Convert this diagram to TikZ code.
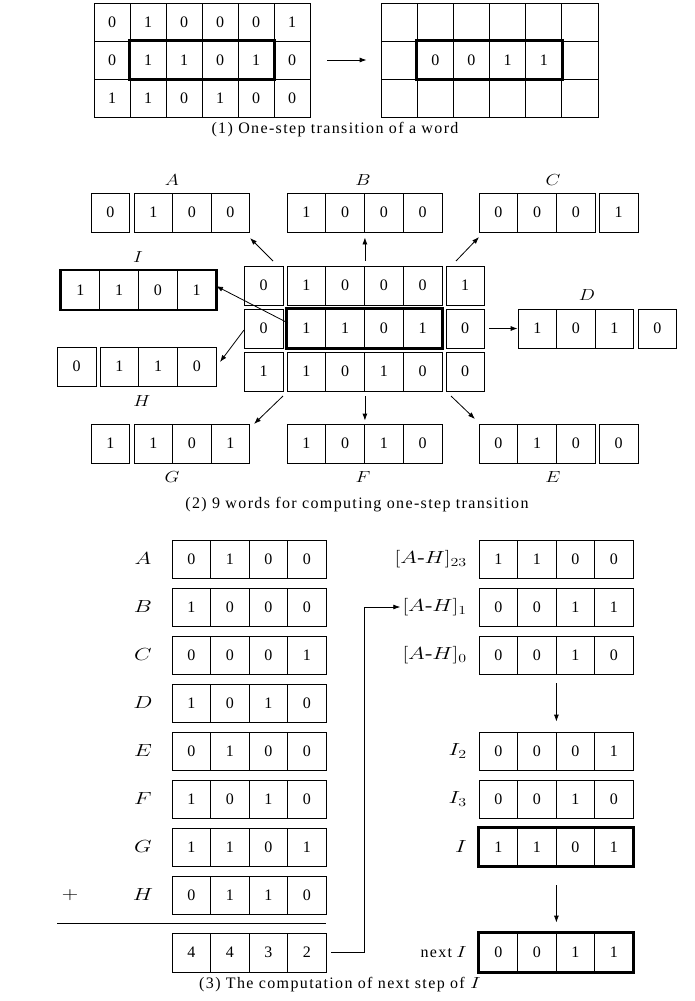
\RequirePackage{fix-cm}
\documentclass[tikz,border=0pt]{standalone}
\usepackage[no-math]{fontspec}
\setmainfont{Liberation Serif}
\usetikzlibrary{arrows.meta}
\newcommand\emptyc{}
\newcommand\mlab[1]{\scalebox{1.2}[1]{$#1$}}
\newcommand\mlabb[1]{\scalebox{1.3}[1]{$#1$}}
\newcommand\spaced{\addfontfeatures{LetterSpace=8.5}}
% #1 name, #2 left x, #3 centre y, #4 cell width, #5 cell height, #6 list
\newcommand\wrd[6]{%
  \foreach \d [count=\i] in {#6} {%
    \node[cellbox, minimum width=#4pt, minimum height=#5pt] (#1-\i) at ({#2+(\i-0.5)*#4}, #3) {\d};
  }}
\begin{document}
\begin{tikzpicture}[x=1pt,y=-1pt, font=\fontsize{16}{19}\selectfont,
  cellbox/.style={draw, line width=0.8pt, inner sep=0pt},
  thickbox/.style={draw, line width=2.6pt},
  arr/.style={-{Latex[length=7pt,width=5pt]}, line width=0.8pt},
  lbl/.style={inner sep=0pt},
  biglbl/.style={inner sep=0pt, font=\fontsize{17.5}{20}\selectfont},
  captxt/.style={inner sep=0pt, font=\fontsize{16}{19}\selectfont\spaced}]
\useasboundingbox (0,0) rectangle (694,1001);

% ---------- (1) ----------
\wrd{ta}{94}{22}{36}{38}{0,1,0,0,0,1}
\wrd{tb}{94}{60}{36}{38}{0,1,1,0,1,0}
\wrd{tc}{94}{98}{36}{38}{1,1,0,1,0,0}
\draw[thickbox] (tb-2.north west) rectangle (tb-5.south east);
\wrd{ua}{381}{22}{36.17}{38}{\emptyc,\emptyc,\emptyc,\emptyc,\emptyc,\emptyc}
\wrd{ub}{381}{60}{36.17}{38}{\emptyc,0,0,1,1,\emptyc}
\wrd{uc}{381}{98}{36.17}{38}{\emptyc,\emptyc,\emptyc,\emptyc,\emptyc,\emptyc}
\draw[thickbox] (ub-2.north west) rectangle (ub-5.south east);
\draw[arr, shorten <=17pt, shorten >=14pt] (tb-6.east) -- (ub-1.west);
\node[captxt] (cap1) at (335,130) {(1) One-step transition of a word};

% ---------- (2) ----------
\wrd{caL}{244}{285.5}{39}{39}{0}
\wrd{ca}{287}{285.5}{38.75}{39}{1,0,0,0}
\wrd{caR}{446}{285.5}{38}{39}{1}
\wrd{cbL}{244}{328.5}{39}{39}{0}
\wrd{cb}{287}{328.5}{38.75}{39}{1,1,0,1}
\wrd{cbR}{446}{328.5}{38}{39}{0}
\wrd{ccL}{244}{371.5}{39}{39}{1}
\wrd{cc}{287}{371.5}{38.75}{39}{1,0,1,0}
\wrd{ccR}{446}{371.5}{38}{39}{0}
\draw[thickbox] (cb-1.north west) rectangle (cb-4.south east);

\wrd{wAs}{91}{212.5}{38.5}{39}{0}
\wrd{wA}{134}{212.5}{38.5}{39}{1,0,0}
\wrd{wB}{287}{212.5}{38.75}{39}{1,0,0,0}
\wrd{wC}{479}{212.5}{38.7}{39}{0,0,0}
\wrd{wCs}{599}{212.5}{39}{39}{1}
\wrd{wI}{61}{290}{38.75}{39}{1,1,0,1}
\draw[thickbox] (wI-1.north west) rectangle (wI-4.south east);
\wrd{wD}{518}{328.5}{38.5}{39}{1,0,1}
\wrd{wDs}{638}{328.5}{38.5}{39}{0}
\wrd{wHs}{57}{366.5}{39}{39}{0}
\wrd{wH}{100}{366.5}{38.7}{39}{1,1,0}
\wrd{wGs}{91}{443.5}{38.5}{39}{1}
\wrd{wG}{134}{443.5}{38.5}{39}{1,0,1}
\wrd{wF}{287}{443.5}{38.75}{39}{1,0,1,0}
\wrd{wE}{479}{443.5}{38.7}{39}{0,1,0}
\wrd{wEs}{599}{443.5}{39}{39}{0}

\node[lbl] (lA) at (172,180) {\mlab{A}};
\node[lbl] (lB) at (363,180) {\mlab{B}};
\node[lbl] (lC) at (553,180) {\mlab{C}};
\node[lbl] (lI) at (138,257) {\mlab{I}};
\node[lbl] (lD) at (587,295) {\mlab{D}};
\node[lbl] (lH) at (142,401) {\mlab{H}};
\node[lbl] (lG) at (172,477) {\mlab{G}};
\node[lbl] (lF) at (363,477) {\mlab{F}};
\node[lbl] (lE) at (553,477) {\mlab{E}};

\coordinate (sA) at (273,261); \coordinate (eA) at (250,238);
\coordinate (sC) at (456,261); \coordinate (eC) at (479,237);
\coordinate (sH) at (244,330); \coordinate (eH) at (220,362);
\coordinate (sG) at (283,396); \coordinate (eG) at (254,424);
\coordinate (sE) at (451,396); \coordinate (eE) at (475,419);
\coordinate (sI) at (288,323); \coordinate (eI) at (216,286);
\draw[arr] (sA) -- (eA);
\draw[arr] (sC) -- (eC);
\draw[arr] (sH) -- (eH);
\draw[arr] (sG) -- (eG);
\draw[arr] (sE) -- (eE);
\draw[arr] (sI) -- (eI);
\draw[arr, shorten <=5pt, shorten >=5pt] (ca-2.north east) -- (wB-2.south east);
\draw[arr, shorten <=5pt, shorten >=3pt] (cc-2.south east) -- (wF-2.north east);
\draw[arr, shorten <=5pt] (cbR-1.east) -- (wD-1.west);
\node[captxt] (cap2) at (357,505) {(2) 9 words for computing one-step transition};

% ---------- (3) ----------
\wrd{bA}{172}{559}{38.5}{38}{0,1,0,0}
\wrd{bB}{172}{607}{38.5}{38}{1,0,0,0}
\wrd{bC}{172}{655}{38.5}{38}{0,0,0,1}
\wrd{bD}{172}{703}{38.5}{38}{1,0,1,0}
\wrd{bE}{172}{751}{38.5}{38}{0,1,0,0}
\wrd{bF}{172}{799}{38.5}{38}{1,0,1,0}
\wrd{bG}{172}{847}{38.5}{38}{1,1,0,1}
\wrd{bH}{172}{895}{38.5}{38}{0,1,1,0}
\wrd{sum}{172}{952.5}{38.5}{39}{4,4,3,2}
\node[biglbl] (mA) at (143,559) {\mlabb{A}};
\node[biglbl] (mB) at (143,607) {\mlabb{B}};
\node[biglbl] (mC) at (143,655) {\mlabb{C}};
\node[biglbl] (mD) at (143,703) {\mlabb{D}};
\node[biglbl] (mE) at (143,751) {\mlabb{E}};
\node[biglbl] (mF) at (143,799) {\mlabb{F}};
\node[biglbl] (mG) at (143,847) {\mlabb{G}};
\node[biglbl] (mH) at (143,895) {\mlabb{H}};
\node[biglbl] (plus) at (70,895) {\mlabb{+}};
\coordinate (ruleL) at (57,923); \coordinate (ruleR) at (326,923);
\draw[line width=0.8pt] (ruleL) -- (ruleR);

\wrd{r23}{479}{559}{38.5}{38}{1,1,0,0}
\wrd{r1}{479}{607}{38.5}{38}{0,0,1,1}
\wrd{r0}{479}{655}{38.5}{38}{0,0,1,0}
\wrd{rI2}{479}{751}{38.5}{38}{0,0,0,1}
\wrd{rI3}{479}{799}{38.5}{38}{0,0,1,0}
\wrd{rI}{479}{847}{38.5}{38}{1,1,0,1}
\wrd{rN}{479}{952.5}{38.5}{39}{0,0,1,1}
\draw[thickbox] (rI-1.north west) rectangle (rI-4.south east);
\draw[thickbox] (rN-1.north west) rectangle (rN-4.south east);
\node[biglbl, anchor=east] (n23) at (467,559) {\mlabb{[A\mbox{-}H]_{23}}};
\node[biglbl, anchor=east] (n1) at (467,607) {\mlabb{[A\mbox{-}H]_{1}}};
\node[biglbl, anchor=east] (n0) at (467,655) {\mlabb{[A\mbox{-}H]_{0}}};
\node[biglbl, anchor=east] (nI2) at (467,751) {\mlabb{I_2}};
\node[biglbl, anchor=east] (nI3) at (467,799) {\mlabb{I_3}};
\node[biglbl, anchor=east] (nI) at (467,847) {\mlabb{I}};
\node[lbl, anchor=east] (nN) at (467,952.5) {{\spaced next} \mlabb{I}};
\draw[arr, shorten <=9pt, shorten >=10pt] (r0-2.south east) -- (rI2-2.north east);
\draw[arr, shorten <=19pt, shorten >=10pt] (rI-2.south east) -- (rN-2.north east);
\coordinate (bend) at (364,952.5);
\draw[arr, shorten <=5pt, shorten >=2pt] (sum-4.east) -- (bend) |- (n1.west);
\node[captxt] (cap3) at (340,985) {(3) The computation of next step of \mlabb{I}};
\end{tikzpicture}
\end{document}
